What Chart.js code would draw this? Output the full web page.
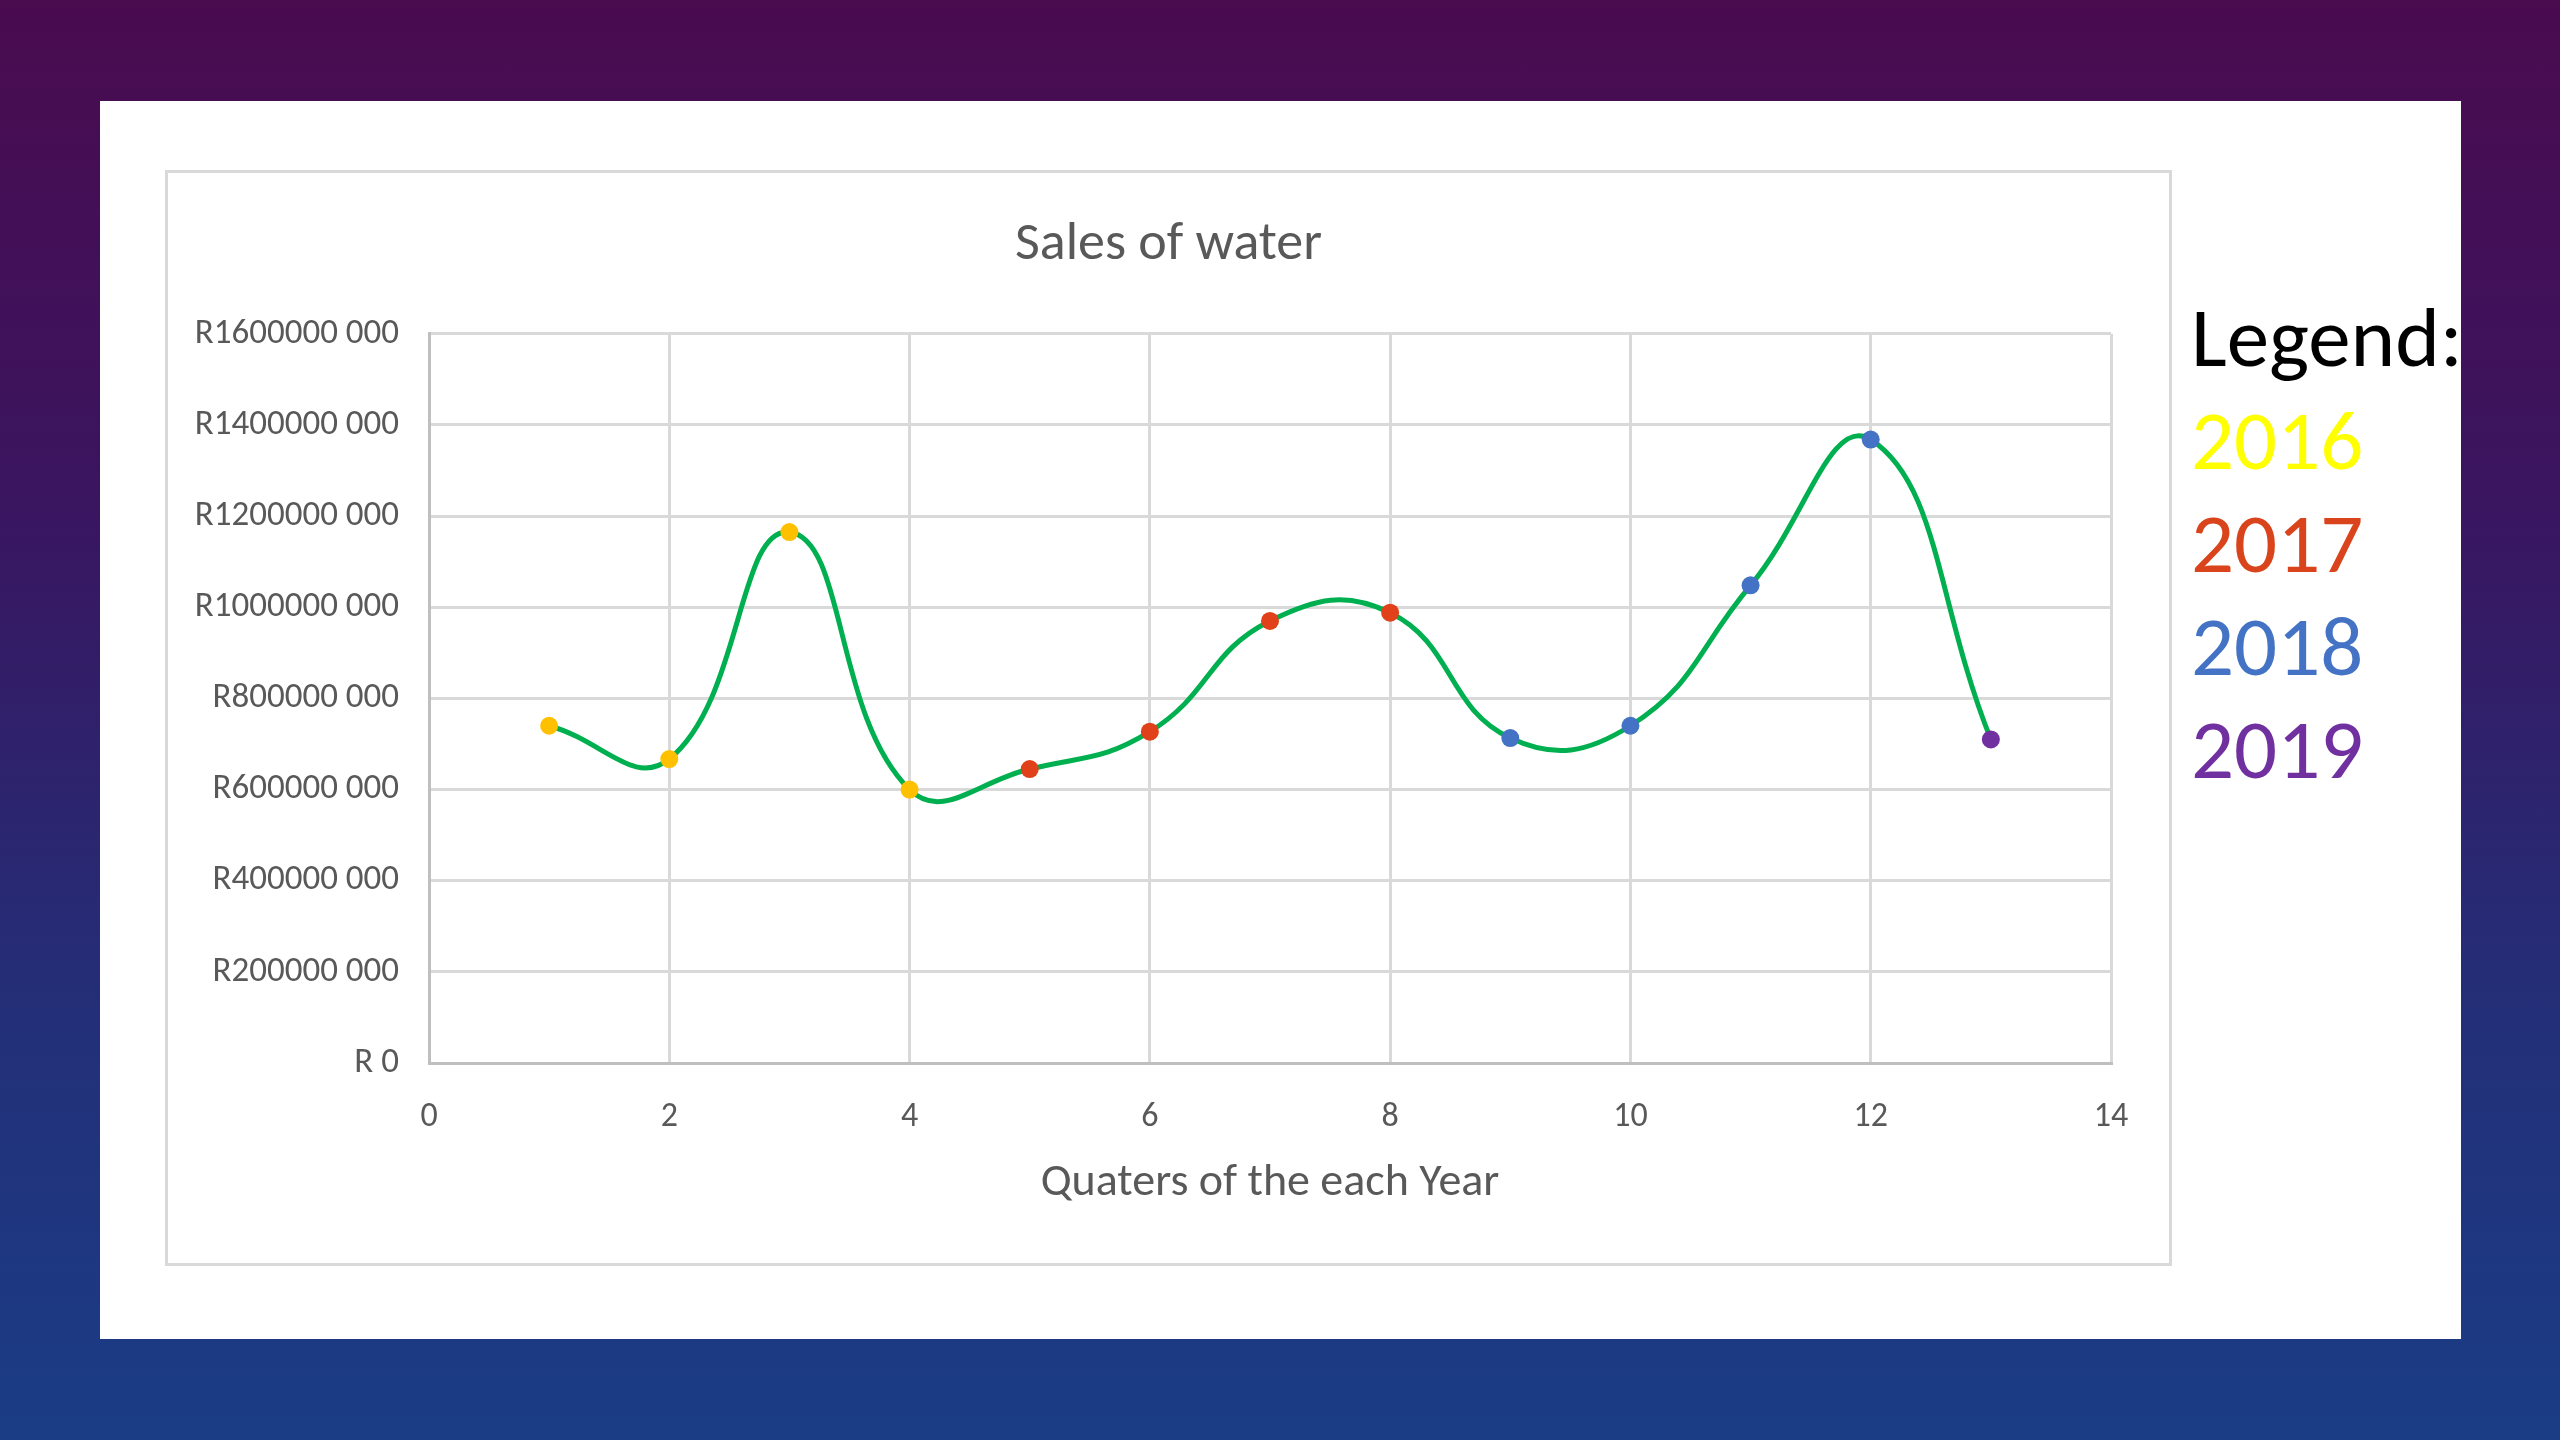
<!DOCTYPE html>
<html>
<head>
<meta charset="utf-8">
<script src="https://cdn.jsdelivr.net/npm/chart.js@4.4.0/dist/chart.umd.min.js"></script>
<style>
  html, body { margin: 0; padding: 0; width: 2560px; height: 1440px; overflow: hidden; }
  body { background: linear-gradient(to bottom, #4a0b4f 0%, #3a1560 35%, #232f78 70%, #1a3d86 100%); position: relative; font-family: Carlito, Lato, "Open Sans", sans-serif; }
  #slide { position: absolute; left: 100px; top: 101px; width: 2361px; height: 1238px; background: #fff; }
  #box { position: absolute; left: 165px; top: 170px; width: 2001px; height: 1090px; border: 3px solid #d9d9d9; background: #fff; }
  #legend { position: absolute; left: 2191px; top: 286px; font-size: 85px; line-height: 103px; }
</style>
</head>
<body>
<div id="slide"></div>
<div id="box"><canvas id="graphCanvasWater"></canvas></div>
<div id="legend">
  <div style="color:#000">Legend:</div>
  <div style="color:#ffff00">2016</div>
  <div style="color:#d9441c">2017</div>
  <div style="color:#4472c4">2018</div>
  <div style="color:#7030a0">2019</div>
</div>
<script>
// quarter number and sales in rand
var quarters = [1, 2, 3, 4, 5, 6, 7, 8, 9, 10, 11, 12, 13];
var sales = [740000000, 667000000, 1165000000, 600000000, 645000000, 727000000, 970000000, 988000000, 713000000, 740000000, 1048000000, 1368000000, 710000000];
var years = ['2016', '2016', '2016', '2016', '2017', '2017', '2017', '2017', '2018', '2018', '2018', '2018', '2019'];
var yTicks = [0, 200000000, 400000000, 600000000, 800000000, 1000000000, 1200000000, 1400000000, 1600000000];
var xTicks = [0, 2, 4, 6, 8, 10, 12, 14];

var yearColours = { '2016': '#ffc000', '2017': '#e0401a', '2018': '#4472c4', '2019': '#7030a0' };

var points = [];
var colours = [];
for (var i in quarters) {
	points.push({ x: quarters[i], y: sales[i] });
	colours.push(yearColours[years[i]]);
}

var chartFont = 'Carlito, Lato, "Open Sans", sans-serif';
Chart.defaults.font.family = chartFont;

var graphTarget = document.getElementById('graphCanvasWater');
graphTarget.width = 2001;
graphTarget.height = 1090;

var waterChart = new Chart(graphTarget, {
	type: 'scatter',
	data: {
		datasets: [{
			label: 'Sales of water',
			data: points,
			showLine: true,
			tension: 0.45,
			borderColor: '#00b050',
			borderWidth: 5,
			pointRadius: 9,
			pointBackgroundColor: colours,
			pointBorderColor: colours,
			pointBorderWidth: 0,
			fill: false
		}]
	},
	options: {
		responsive: false,
		animation: false,
		devicePixelRatio: 1,
		layout: { padding: 0 },
		plugins: {
			legend: { display: false },
			tooltip: { enabled: false },
			title: {
				display: true,
				text: 'Sales of water',
				color: '#595959',
				font: { size: 54, weight: 'normal' },
				padding: { top: 40, bottom: 56 }
			}
		},
		scales: {
			x: {
				type: 'linear',
				min: 0,
				max: 14,
				afterBuildTicks: function (scale) {
					scale.ticks = xTicks.map(function (v) { return { value: v }; });
				},
				afterFit: function (scale) { scale.height = 200; },
				grid: { color: '#d9d9d9', lineWidth: 3, drawTicks: false },
				border: { color: '#bfbfbf', width: 3 },
				ticks: { color: '#595959', font: { size: 34 }, padding: 34 },
				title: {
					display: true,
					text: 'Quaters of the each Year',
					color: '#595959',
					font: { size: 46 },
					padding: { top: 52, bottom: 52 }
				}
			},
			y: {
				type: 'linear',
				min: 0,
				max: 1600000000,
				afterBuildTicks: function (scale) {
					scale.ticks = yTicks.map(function (v) { return { value: v }; });
				},
				afterFit: function (scale) { scale.width = 261; },
				grid: { color: '#d9d9d9', lineWidth: 3, drawTicks: false },
				border: { color: '#bfbfbf', width: 3 },
				ticks: {
					color: '#595959',
					font: { size: 35 },
					padding: 30,
					callback: function (v) {
						if (v === 0) return 'R 0';
						return 'R' + (v / 1000) + ' 000';
					}
				}
			},
			// empty right axis only keeps the gap on the right of the plot
			yRight: {
				type: 'linear',
				position: 'right',
				display: true,
				afterFit: function (scale) { scale.width = 58; },
				grid: { display: false },
				border: { display: false },
				ticks: { display: false }
			}
		}
	}
});
</script>
</body>
</html>
